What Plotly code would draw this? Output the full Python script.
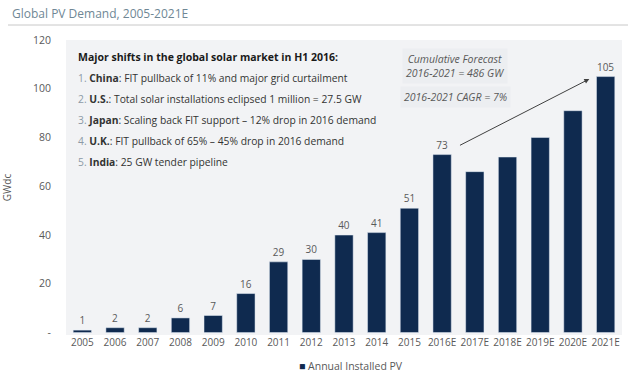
import plotly.graph_objects as go

categories = ["2005", "2006", "2007", "2008", "2009", "2010", "2011", "2012", "2013",
              "2014", "2015", "2016E", "2017E", "2018E", "2019E", "2020E", "2021E"]
values = [1, 2, 2, 6, 7, 16, 29, 30, 40, 41, 51, 73, 66, 72, 80, 91, 105]
labels = ["1", "2", "2", "6", "7", "16", "29", "30", "40", "41", "51", "73", "", "", "", "", "105"]
y_ticks = [0, 20, 40, 60, 80, 100, 120]
y_tick_text = ["-", "20", "40", "60", "80", "100", "120"]

bullets = [
    ("1.", "China", ": FIT pullback of 11% and major grid curtailment"),
    ("2.", "U.S.", ": Total solar installations eclipsed 1 million = 27.5 GW"),
    ("3.", "Japan", ": Scaling back FIT support \u2013 12% drop in 2016 demand"),
    ("4.", "U.K.", ": FIT pullback of 65% \u2013 45% drop in 2016 demand"),
    ("5.", "India", ": 25 GW tender pipeline"),
]

FONT = "Open Sans"
BAR = "#0f2a4f"
GREY = "#595959"

fig = go.Figure()
fig.add_trace(go.Bar(
    x=categories, y=values, text=labels, textposition="outside",
    textfont=dict(size=10, color=GREY, family=FONT),
    marker=dict(color=BAR), name="Annual Installed PV", cliponaxis=False,
    showlegend=False,
))

W, H = 628, 373
L, R, T, B = 66, 6, 40, 38
pw, ph = W - L - R, H - T - B

def px(x):
    return (x - L) / pw

def py(y):
    return (H - B - y) / ph

ann = []
ann.append(dict(x=px(76), y=py(57), xref="paper", yref="paper", xanchor="left", yanchor="middle",
                text="<b>Major shifts in the global solar market in H1 2016:</b>", showarrow=False,
                font=dict(size=10.5, color="#1a1a1a", family=FONT)))
for i, (n, name, rest) in enumerate(bullets):
    ann.append(dict(x=px(76), y=py(78 + 21 * i), xref="paper", yref="paper", xanchor="left", yanchor="middle",
                    text=f"<span style='color:#8c9aa6'>{n}</span> <b>{name}</b>{rest}", showarrow=False,
                    font=dict(size=10.3, color="#333333", family=FONT)))

ann.append(dict(x=px(455), y=py(66), xref="paper", yref="paper", xanchor="center", yanchor="middle",
                text="<i>Cumulative Forecast<br>2016-2021 = 486 GW</i>", showarrow=False,
                font=dict(size=10.5, color=GREY, family=FONT), bgcolor="#eceef1", borderpad=3))
ann.append(dict(x=px(455), y=py(97), xref="paper", yref="paper", xanchor="center", yanchor="middle",
                text="<i>2016-2021 CAGR = 7%</i>", showarrow=False,
                font=dict(size=10.5, color=GREY, family=FONT), bgcolor="#eceef1", borderpad=3))

# arrow
ann.append(dict(x=15.5, y=104, ax=11.5, ay=76.5, xref="x", yref="y", axref="x", ayref="y",
                showarrow=True, arrowhead=2, arrowsize=1, arrowwidth=1, arrowcolor="#404040", text=""))

# title
ann.append(dict(x=px(10), y=py(13), xref="paper", yref="paper", text="Global PV Demand, 2005-2021E",
                showarrow=False, font=dict(size=12, color="#6f8795", family=FONT),
                xanchor="left", yanchor="middle"))

# legend-like key
ann.append(dict(x=px(297), y=py(366), xref="paper", yref="paper", xanchor="left", yanchor="middle",
                text=f"<span style='color:{BAR}'>\u25A0</span> Annual Installed PV", showarrow=False,
                font=dict(size=10.5, color=GREY, family=FONT)))

fig.update_layout(
    width=W, height=H, margin=dict(l=L, r=R, t=T, b=B),
    paper_bgcolor="white", plot_bgcolor="#f2f3f5",
    bargap=0.44, showlegend=False,
    annotations=ann,
    font=dict(family=FONT, color=GREY),
    shapes=[dict(type="line", xref="paper", yref="paper", x0=px(8), x1=px(628), y0=py(25), y1=py(25),
                 line=dict(color="#c8c8c8", width=1))],
)
fig.update_xaxes(range=[-0.5, 16.5], showgrid=False, showline=False, ticks="",
                 tickfont=dict(size=10, color=GREY, family=FONT), tickangle=0)
fig.update_yaxes(range=[-1, 120], tickvals=y_ticks, ticktext=y_tick_text, showgrid=False,
                 zeroline=False, showline=False, ticks="", ticklabelstandoff=14,
                 tickfont=dict(size=10.5, color=GREY, family=FONT),
                 title=dict(text="GWdc", font=dict(size=10, color=GREY, family=FONT), standoff=20))

fig.write_html("out.html", config={"displayModeBar": False},
               post_script="document.body.style.margin='0';")
